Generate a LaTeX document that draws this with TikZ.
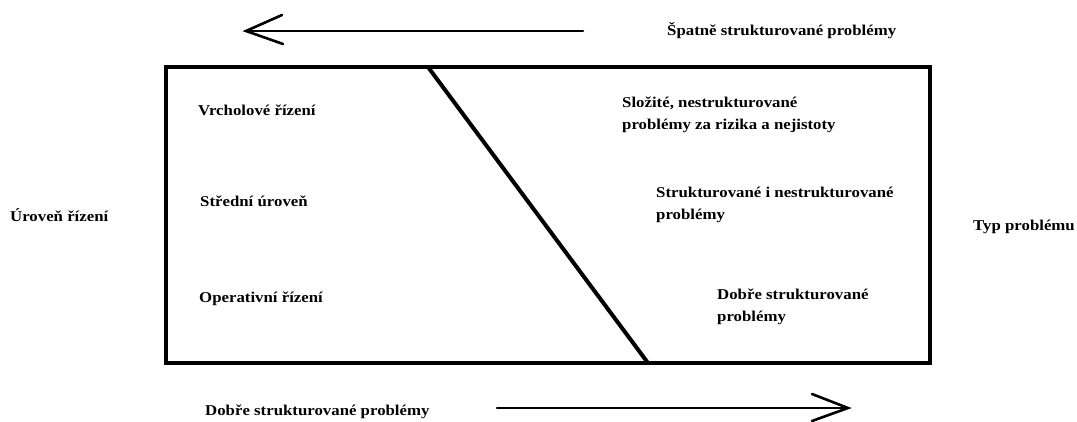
\documentclass[tikz,border=0pt]{standalone}
\usepackage{fontspec}
\setmainfont[FakeStretch=1.12]{Liberation Serif}
\begin{document}
\begin{tikzpicture}[x=1pt,y=1pt,
  lbl/.style={anchor=base west,inner sep=0pt,font=\fontsize{15}{22}\selectfont\bfseries,align=left,
    execute at begin node={\setlength{\baselineskip}{22pt}}},
  frame/.style={line width=4.5pt},
  arr/.style={line width=2.6pt,line cap=round,line join=miter}]
\useasboundingbox (0,0) rectangle (1077,421);
% frame and divider
\coordinate (tl) at (166,354);
\coordinate (br) at (930,58);
\draw[frame] (tl) rectangle (br);
\coordinate (dtop) at (428,354);
\coordinate (dbot) at (648,58);
\draw[line width=4pt] (dtop) -- (dbot);
% top arrow
\coordinate (ttail) at (583,390);
\coordinate (ttip) at (246,390);
\coordinate (tb1) at (282,406);
\coordinate (tb2) at (283,377);
\draw[arr] (ttail) -- (ttip);
\draw[arr] (tb1) -- (ttip) -- (tb2);
% bottom arrow
\coordinate (btail) at (497,13);
\coordinate (btip) at (848,13);
\coordinate (bb1) at (812,27);
\coordinate (bb2) at (812,0);
\draw[arr] (btail) -- (btip);
\draw[arr] (bb1) -- (btip) -- (bb2);
% labels
\node[lbl] (spatne) at (667,385) {Špatně strukturované problémy};
\node[lbl] (vrch) at (198,305) {Vrcholové řízení};
\node[lbl] (stred) at (200,214) {Střední úroveň};
\node[lbl] (oper) at (199,118) {Operativní řízení};
\node[lbl] (uroven) at (10,199) {Úroveň řízení};
\node[lbl] (slozite) at (622,291) {Složité, nestrukturované\\problémy za rizika a nejistoty};
\node[lbl] (strukt) at (656,201) {Strukturované i nestrukturované\\problémy};
\node[lbl] (typ) at (973,190) {Typ problému};
\node[lbl] (dobre) at (717,100) {Dobře strukturované\\problémy};
\node[lbl] (dobreb) at (205,6) {Dobře strukturované problémy};
\end{tikzpicture}
\end{document}
